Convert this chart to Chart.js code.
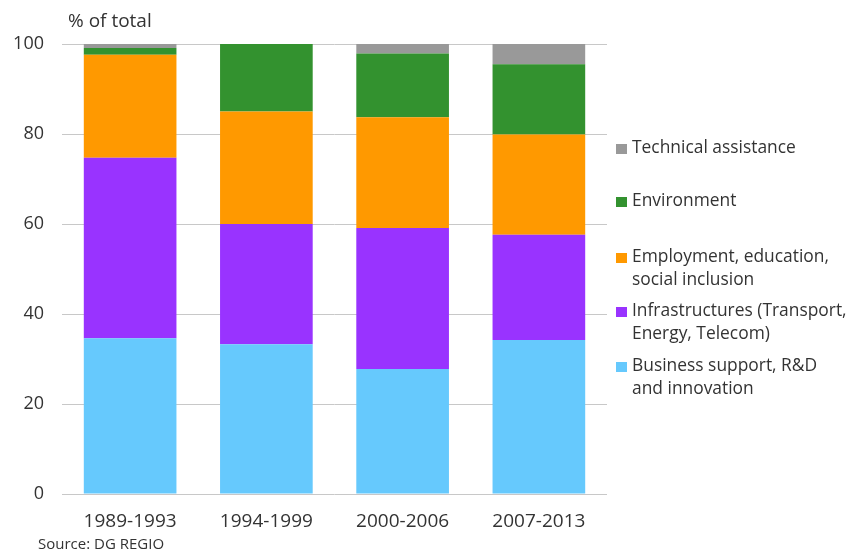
<!DOCTYPE html>
<html>
<head>
<meta charset="utf-8">
<script src="https://cdn.jsdelivr.net/npm/chart.js@4"></script>
<style>
html,body{margin:0;padding:0;background:#fff;}
#wrap{position:relative;width:850px;height:554px;}
canvas{display:block;}
</style>
</head>
<body>
<div id="wrap"><canvas id="c" width="850" height="554"></canvas></div>
<script>
const categories = ["1989-1993", "1994-1999", "2000-2006", "2007-2013"];
const seriesNames = [
  ["Business support, R&D", "and innovation"],
  ["Infrastructures (Transport,", "Energy, Telecom)"],
  ["Employment, education,", "social inclusion"],
  ["Environment"],
  ["Technical assistance"]
];
const businessSupport = [34.6, 33.3, 27.8, 34.2];
const infrastructures = [40.1, 26.7, 31.3, 23.4];
const employment      = [22.9, 25.0, 24.6, 22.3];
const environment     = [1.5, 15.0, 14.2, 15.6];
const technicalAssist = [0.9, 0.0, 2.1, 4.5];
const yTicks = [0, 20, 40, 60, 80, 100];
const colors = ["#66c9fd", "#9933ff", "#ff9900", "#33922f", "#999999"];
const yTitle = "% of total";
const sourceText = "Source: DG REGIO";

const seriesValues = [businessSupport, infrastructures, employment, environment, technicalAssist];
const FONT = "'Open Sans', 'DejaVu Sans', sans-serif";

const overlay = {
  id: 'overlay',
  afterDraw(chart) {
    const ctx = chart.ctx;
    ctx.save();
    ctx.fillStyle = '#333333';
    ctx.font = "19px " + FONT;
    ctx.textBaseline = 'middle';
    ctx.textAlign = 'left';
    ctx.fillText(yTitle, 68, 22);
    ctx.font = "15px " + FONT;
    ctx.fillText(sourceText, 38, 545);
    // legend (reverse order)
    const rows = [148, 201, 257, 311, 366];
    const lh = 23;
    ctx.font = "17.4px " + FONT;
    for (let i = 0; i < 5; i++) {
      const idx = 4 - i;
      const y = rows[i];
      ctx.fillStyle = colors[idx];
      ctx.fillRect(616, y - 4, 11, 10);
      ctx.fillStyle = '#333333';
      seriesNames[idx].forEach((t, k) => ctx.fillText(t, 632, y + k * lh));
    }
    ctx.restore();
  }
};

new Chart(document.getElementById('c'), {
  type: 'bar',
  data: {
    labels: categories,
    datasets: seriesValues.map((v, i) => ({
      label: seriesNames[i].join(' '),
      data: v,
      backgroundColor: colors[i],
      borderWidth: 0,
      categoryPercentage: 0.68,
      barPercentage: 1.0
    }))
  },
  options: {
    responsive: false,
    animation: false,
    devicePixelRatio: 1,
    layout: { padding: { top: 44, right: 243, bottom: 0, left: 0 } },
    plugins: { legend: { display: false }, tooltip: { enabled: false } },
    scales: {
      x: {
        stacked: true,
        grid: { display: false, drawTicks: false },
        border: { display: false },
        ticks: { color: '#333333', font: { family: FONT, size: 19 }, padding: 16, maxRotation: 0 },
        afterFit(s) { s.height = 60; }
      },
      y: {
        stacked: true,
        min: 0, max: 100,
        afterBuildTicks(s) { s.ticks = yTicks.map(v => ({ value: v })); },
        grid: { color: '#c8c8c8', lineWidth: 1, drawTicks: false },
        border: { display: false },
        ticks: { color: '#333333', font: { family: FONT, size: 18 }, padding: 18 },
        afterFit(s) { s.width = 62; }
      }
    }
  },
  plugins: [overlay]
});
</script>
</body>
</html>
